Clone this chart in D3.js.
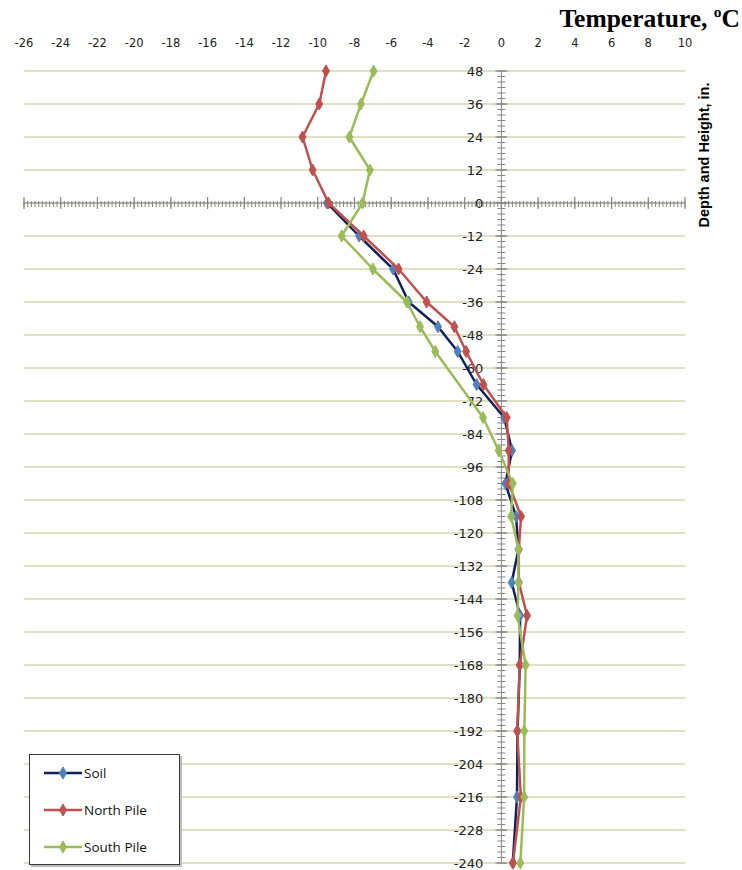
<!DOCTYPE html>
<html>
<head>
<meta charset="utf-8">
<script src="https://cdn.jsdelivr.net/npm/d3@7"></script>
<style>
  html, body { margin: 0; padding: 0; background: #fff; }
  svg { display: block; }
</style>
</head>
<body>
<script>
// Depth / height of each sensor (inches, positive = above ground)
const depths = [48, 36, 24, 12, 0, -12, -24, -36, -45, -54, -66, -78, -90, -102, -114, -126, -138, -150, -168, -192, -216, -240];

// Temperatures (°C) at each depth; null where a series has no reading
const soil = [null, null, null, null, -9.5, -7.75, -5.9, -5.05, -3.45, -2.38, -1.35, 0.15, 0.58, 0.22, 0.8, 0.93, 0.56, 1.02, 1.0, 0.88, 0.85, 0.62];
const northPile = [-9.55, -9.92, -10.83, -10.28, -9.41, -7.5, -5.6, -4.07, -2.56, -1.92, -0.98, 0.29, 0.4, 0.4, 1.07, 0.95, 0.95, 1.4, 1.0, 0.86, 1.06, 0.63];
const southPile = [-6.96, -7.65, -8.28, -7.16, -7.56, -8.7, -7.0, -5.15, -4.43, -3.6, null, -1.0, -0.15, 0.62, 0.53, 0.93, 0.93, 0.88, 1.32, 1.25, 1.24, 1.03];

const seriesNames = ["Soil", "North Pile", "South Pile"];
const lineColors = ["#10205a", "#c0504d", "#9bbb59"];
const markerColors = ["#4f81bd", "#c0504d", "#9bbb59"];

const xTicks = d3.range(-26, 11, 2);
const yTicks = d3.range(48, -241, -12);

const W = 742, H = 870;
const svg = d3.select("body").append("svg").attr("width", W).attr("height", H);

const x = d3.scaleLinear().domain([-26, 10]).range([24, 685]);
const y = d3.scaleLinear().domain([48, -240]).range([71, 863]);

const tickFont = "'DejaVu Sans', 'Noto Sans', sans-serif";

// horizontal gridlines
svg.append("g").selectAll("line").data(yTicks).join("line")
  .attr("x1", x(-26)).attr("x2", x(10))
  .attr("y1", d => y(d)).attr("y2", d => y(d))
  .attr("stroke", "#d7d5ae").attr("stroke-width", 1.5);

const axisColor = "#868686";
const x0 = x(0), y0 = y(0);

// horizontal (temperature) axis crossing at depth 0
const hAxis = svg.append("g");
hAxis.append("line").attr("x1", x(-26)).attr("x2", x(10)).attr("y1", y0).attr("y2", y0)
  .attr("stroke", axisColor).attr("stroke-width", 1);
hAxis.selectAll("line.minor").data(d3.range(-26, 10.001, 0.2)).join("line").attr("class", "minor")
  .attr("x1", d => x(d)).attr("x2", d => x(d)).attr("y1", y0 - 2).attr("y2", y0 + 4)
  .attr("stroke", axisColor).attr("stroke-width", 1);
hAxis.selectAll("line.major").data(xTicks).join("line").attr("class", "major")
  .attr("x1", d => x(d)).attr("x2", d => x(d)).attr("y1", y0 - 6).attr("y2", y0 + 6)
  .attr("stroke", axisColor).attr("stroke-width", 1.2);

// temperature tick labels along the top
svg.append("g").selectAll("text").data(xTicks).join("text")
  .attr("x", d => x(d)).attr("y", 47)
  .attr("text-anchor", "middle")
  .attr("font-family", tickFont).attr("font-size", 11.5).attr("fill", "#222")
  .text(d => d);

// vertical (depth) axis crossing at 0 °C
const vAxis = svg.append("g");
vAxis.append("line").attr("x1", x0).attr("x2", x0).attr("y1", y(48)).attr("y2", y(-240))
  .attr("stroke", axisColor).attr("stroke-width", 1);
vAxis.selectAll("line.minor").data(d3.range(48, -240.001, -2)).join("line").attr("class", "minor")
  .attr("x1", x0 - 4).attr("x2", x0 + 4).attr("y1", d => y(d)).attr("y2", d => y(d))
  .attr("stroke", axisColor).attr("stroke-width", 1);
vAxis.selectAll("line.major").data(yTicks).join("line").attr("class", "major")
  .attr("x1", x0 - 6).attr("x2", x0 + 6).attr("y1", d => y(d)).attr("y2", d => y(d))
  .attr("stroke", axisColor).attr("stroke-width", 1.2);

// depth tick labels
svg.append("g").selectAll("text").data(yTicks).join("text")
  .attr("x", x0 - 18).attr("y", d => y(d)).attr("dy", "0.36em")
  .attr("text-anchor", "end")
  .attr("font-family", tickFont).attr("font-size", 13).attr("fill", "#222")
  .text(d => d);

// series lines and diamond markers
const allSeries = [soil, northPile, southPile];
const line = d3.line().x(d => x(d.t)).y(d => y(d.d));
const diamond = d3.symbol().type(d3.symbolDiamond).size(42);

allSeries.forEach((vals, i) => {
  const pts = depths.map((d, k) => ({ d, t: vals[k] })).filter(p => p.t !== null);
  const g = svg.append("g");
  g.append("path").datum(pts).attr("d", line)
    .attr("fill", "none").attr("stroke", lineColors[i]).attr("stroke-width", 2.5)
    .attr("stroke-linejoin", "round");
  g.selectAll("path.mk").data(pts).join("path").attr("class", "mk")
    .attr("d", diamond)
    .attr("transform", p => `translate(${x(p.t)},${y(p.d)})`)
    .attr("fill", markerColors[i]).attr("stroke", markerColors[i]).attr("stroke-width", 1);
});

// chart title
const title = svg.append("text")
  .attr("x", 740).attr("y", 27).attr("text-anchor", "end")
  .attr("font-family", "'Liberation Serif', 'Times New Roman', serif")
  .attr("font-weight", "bold").attr("font-size", 25.5).attr("fill", "#000");
title.append("tspan").text("Temperature, ");
title.append("tspan").attr("font-size", 15.5).attr("dy", -10).text("o");
title.append("tspan").attr("dy", 10).text("C");

// vertical axis title
svg.append("text")
  .attr("transform", "translate(709,155) rotate(-90)")
  .attr("text-anchor", "middle")
  .attr("font-family", "'Liberation Sans', Arial, sans-serif")
  .attr("font-weight", "bold").attr("font-size", 14.5).attr("fill", "#000")
  .text("Depth and Height, in.");

// legend
const lg = svg.append("g");
lg.append("rect").attr("x", 31).attr("y", 756).attr("width", 151).attr("height", 111)
  .attr("fill", "#bdbdbd");
lg.append("rect").attr("x", 29.5).attr("y", 754.5).attr("width", 150).attr("height", 110)
  .attr("fill", "#fff").attr("stroke", "#3a3a3a").attr("stroke-width", 1);
seriesNames.forEach((name, i) => {
  const ly = 773 + i * 37;
  lg.append("line").attr("x1", 44).attr("x2", 82).attr("y1", ly).attr("y2", ly)
    .attr("stroke", lineColors[i]).attr("stroke-width", 2.5);
  lg.append("path").attr("d", diamond).attr("transform", `translate(63,${ly})`)
    .attr("fill", markerColors[i]).attr("stroke", markerColors[i]);
  lg.append("text").attr("x", 84).attr("y", ly).attr("dy", "0.36em")
    .attr("font-family", "'Open Sans', 'Noto Sans', sans-serif").attr("font-size", 13.5)
    .attr("fill", "#111").text(name);
});
</script>
</body>
</html>
